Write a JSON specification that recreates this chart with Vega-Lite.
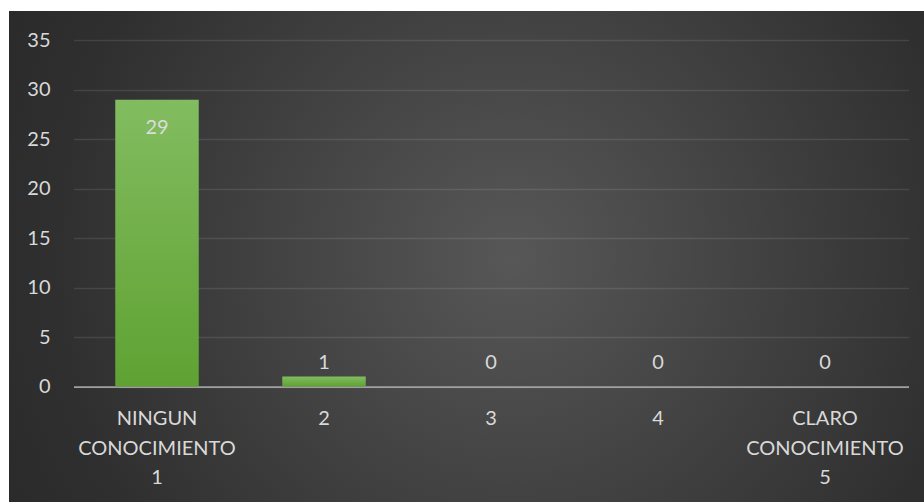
{
  "$schema": "https://vega.github.io/schema/vega-lite/v6.json",
  "width": 915,
  "height": 491,
  "autosize": {"type": "none"},
  "padding": {"left": 9, "top": 11, "right": 0, "bottom": 0},
  "background": "white",
  "view": {
    "stroke": null,
    "fill": {
      "gradient": "radial",
      "x1": 0.55, "y1": 0.5, "r1": 0,
      "x2": 0.55, "y2": 0.5, "r2": 0.72,
      "stops": [
        {"offset": 0, "color": "#575757"},
        {"offset": 0.7, "color": "#2f2f2f"},
        {"offset": 1, "color": "#262626"}
      ]
    }
  },
  "config": {"font": "Lato"},
  "data": {
    "values": [
      {"nivel": "NINGUN CONOCIMIENTO 1", "cantidad": 29},
      {"nivel": "2", "cantidad": 1},
      {"nivel": "3", "cantidad": 0},
      {"nivel": "4", "cantidad": 0},
      {"nivel": "CLARO CONOCIMIENTO 5", "cantidad": 0}
    ]
  },
  "encoding": {
    "x": {
      "field": "nivel",
      "type": "nominal",
      "sort": null,
      "scale": {"range": [64.5, 899.5], "paddingInner": 0.5, "paddingOuter": 0.25},
      "axis": {
        "title": null,
        "labelAngle": 0,
        "ticks": false,
        "grid": false,
        "domainColor": "#a0a0a0",
        "domainWidth": 1.75,
        "offset": -115.5,
        "labelPadding": 22,
        "labelExpr": "split(datum.label, ' ')",
        "labelLineHeight": 29.5,
        "labelFontSize": 20,
        "labelColor": "#d9d9d9",
        "labelLimit": 400,
        "labelOverlap": false
      }
    },
    "y": {
      "field": "cantidad",
      "type": "quantitative",
      "scale": {"domain": [0, 35], "range": [375.5, 29.3], "nice": false, "zero": true},
      "axis": {
        "title": null,
        "values": [0, 5, 10, 15, 20, 25, 30, 35],
        "domain": false,
        "ticks": false,
        "offset": -41,
        "labelPadding": 0,
        "labelFontSize": 20,
        "labelColor": "#d9d9d9",
        "gridColor": "white",
        "gridOpacity": 0.1,
        "gridWidth": 1.3
      }
    }
  },
  "layer": [
    {
      "mark": {
        "type": "bar",
        "fill": {
          "gradient": "linear",
          "x1": 0, "y1": 0, "x2": 0, "y2": 1,
          "stops": [
            {"offset": 0, "color": "#82bc60"},
            {"offset": 1, "color": "#5fa232"}
          ]
        }
      }
    },
    {
      "transform": [{"filter": "datum.cantidad >= 10"}],
      "mark": {"type": "text", "baseline": "top", "dy": 18, "fontSize": 20, "color": "#dcdcdc"},
      "encoding": {"text": {"field": "cantidad", "type": "quantitative"}}
    },
    {
      "transform": [{"filter": "datum.cantidad > 0 && datum.cantidad < 10"}],
      "mark": {"type": "text", "baseline": "alphabetic", "dy": -7.5, "fontSize": 20, "color": "#d9d9d9"},
      "encoding": {"text": {"field": "cantidad", "type": "quantitative"}}
    },
    {
      "transform": [{"filter": "datum.cantidad == 0"}],
      "mark": {"type": "text", "baseline": "alphabetic", "dy": -17.5, "fontSize": 20, "color": "#d9d9d9"},
      "encoding": {"text": {"field": "cantidad", "type": "quantitative"}}
    }
  ]
}
